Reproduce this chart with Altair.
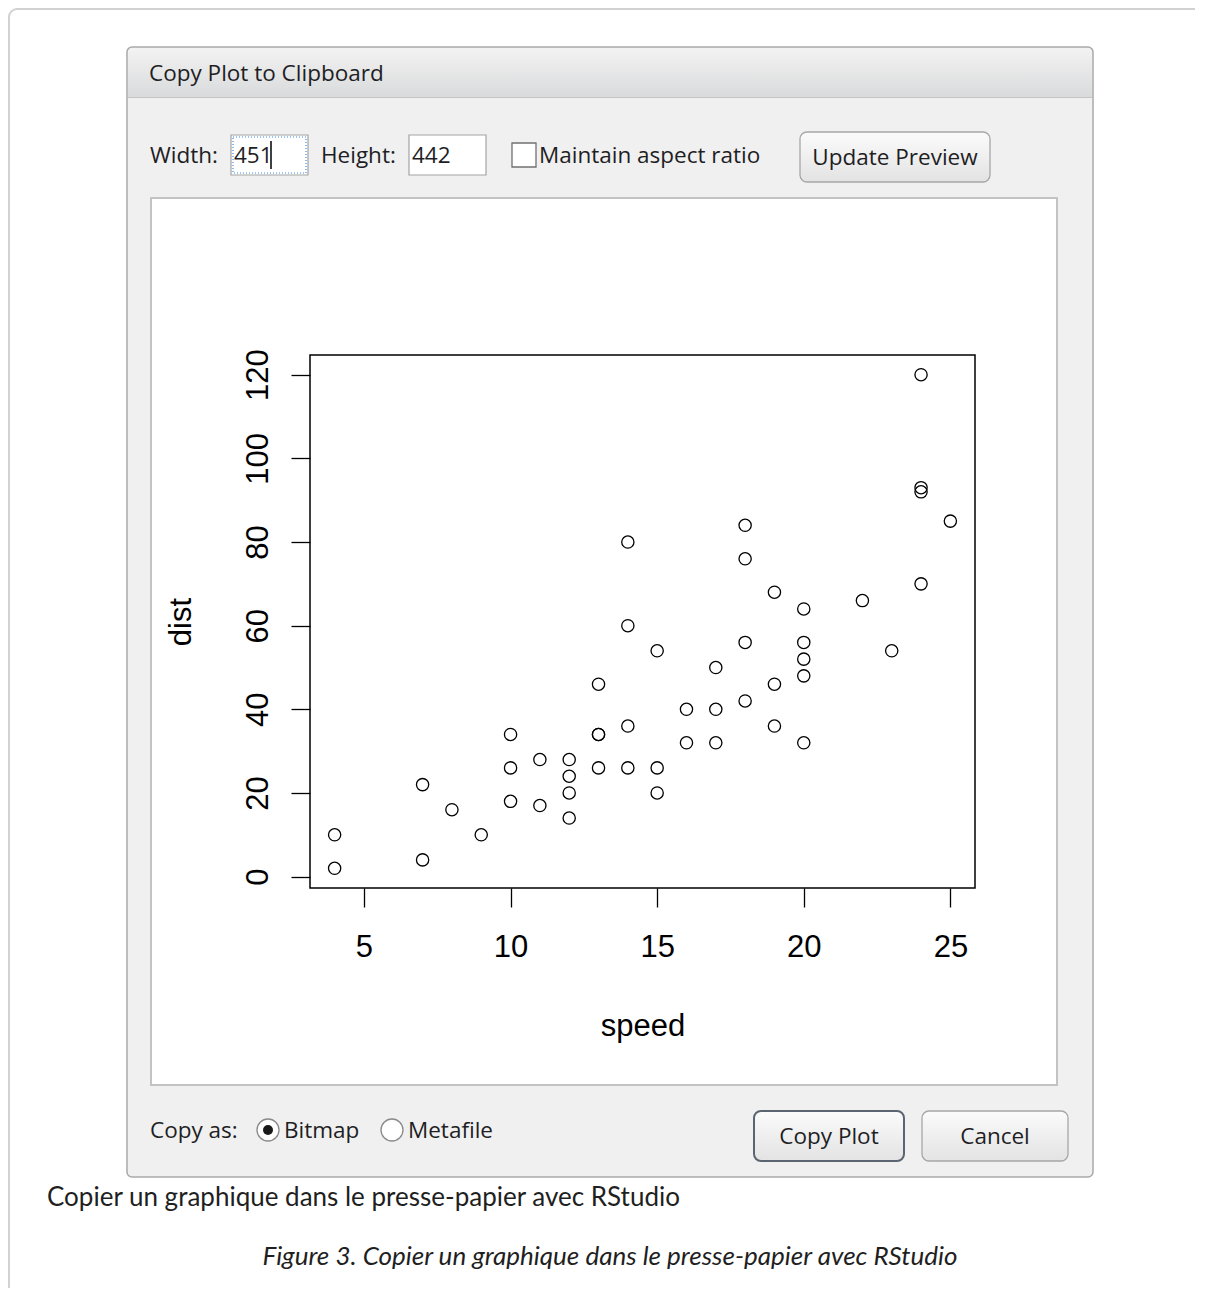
import altair as alt
import pandas as pd

# ---- data (cars dataset as shown) ----
speed = [4, 4, 7, 7, 8, 9, 10, 10, 10, 11, 11, 12, 12, 12, 12, 13, 13, 13, 13, 14,
         14, 14, 14, 15, 15, 15, 16, 16, 17, 17, 17, 18, 18, 18, 18, 19, 19, 19, 20, 20,
         20, 20, 20, 22, 23, 24, 24, 24, 24, 25]
dist = [2, 10, 4, 22, 16, 10, 18, 26, 34, 17, 28, 14, 20, 24, 28, 26, 34, 34, 46, 26,
        36, 60, 80, 20, 26, 54, 32, 40, 32, 40, 50, 42, 56, 76, 84, 36, 46, 68, 32, 48,
        52, 56, 64, 66, 54, 70, 92, 93, 120, 85]
x_ticks = [5, 10, 15, 20, 25]
y_ticks = [0, 20, 40, 60, 80, 100, 120]

x_title = "speed"
y_title = "dist"
dialog_title = "Copy Plot to Clipboard"
caption = "Copier un graphique dans le presse-papier avec RStudio"
figure_caption = "Figure 3. Copier un graphique dans le presse-papier avec RStudio"

df = pd.DataFrame({"speed": speed, "dist": dist})
one = pd.DataFrame({"k": [0]})

W, H = 665, 533
UI_FONT = "Open Sans"
UI_SIZE = 22.5
UI_COLOR = "#1e1e24"


def rect(x, x2, y, y2, **mk):
    return alt.Chart(one).mark_rect(**mk).encode(
        x=alt.value(x), x2=alt.value(x2), y=alt.value(y), y2=alt.value(y2)
    )


def label(txt, x, y, **mk):
    opts = dict(font=UI_FONT, fontSize=UI_SIZE, color=UI_COLOR, align="left",
                baseline="alphabetic")
    opts.update(mk)
    return alt.Chart(one).mark_text(**opts).encode(
        x=alt.value(x), y=alt.value(y), text=alt.value(txt)
    )


def dot(x, y, size, **mk):
    return alt.Chart(one).mark_point(shape="circle", **mk).encode(
        x=alt.value(x), y=alt.value(y), size=alt.value(size)
    )


def grad(c1, c2):
    return alt.LinearGradient(
        gradient="linear", x1=0, x2=0, y1=0, y2=1,
        stops=[alt.GradientStop(color=c1, offset=0), alt.GradientStop(color=c2, offset=1)],
    )


layers = []
# page frame
layers.append(rect(-301, 920, -346, 980, fill="white", stroke="#d2d2d2",
                   strokeWidth=2, cornerRadius=8))
# dialog body
layers.append(rect(-183, 783, -308, 822, fill="#f0f0f0", stroke="#a9a9a9",
                   strokeWidth=1.5, cornerRadius=5))
# title bar
layers.append(rect(-182, 782, -307, -258, fill=grad("#f3f3f3", "#d9dadb"),
                   cornerRadiusTopLeft=5, cornerRadiusTopRight=5))
layers.append(rect(-182, 782, -258, -257, fill="#c4c4c4"))
layers.append(label(dialog_title, -161, -274))

# width / height inputs
layers.append(label("Width:", -160, -192))
layers.append(rect(-79, -2, -220, -180, fill="white", stroke="#a4a4a4", strokeWidth=1.2))
layers.append(rect(-77, -4, -218, -182, fillOpacity=0, stroke="#3b8be6",
                   strokeWidth=1.2, strokeDash=[1, 2]))
layers.append(label("451", -76, -192))
layers.append(alt.Chart(one).mark_rule(color="black", strokeWidth=1.5).encode(
    x=alt.value(-39), y=alt.value(-214), y2=alt.value(-186)))
layers.append(label("Height:", 11, -192))
layers.append(rect(99, 176, -220, -180, fill="white", stroke="#a4a4a4", strokeWidth=1.2))
layers.append(label("442", 102, -192))

# checkbox
layers.append(rect(202, 226, -212, -188, fill="white", stroke="#707070", strokeWidth=1.3))
layers.append(label("Maintain aspect ratio", 229, -192))

# update preview button
layers.append(rect(490, 680, -223, -173, fill=grad("#fbfbfb", "#e3e3e3"),
                   stroke="#a7a7a7", strokeWidth=1.3, cornerRadius=7))
layers.append(label("Update Preview", 585, -190, align="center"))

# preview panel
layers.append(rect(-159, 747, -157, 730, fill="white", stroke="#c3c3c3", strokeWidth=2))

# bottom row
layers.append(label("Copy as:", -160, 783))
layers.append(dot(-42, 775, 484, filled=True, fill="white", stroke="#8a8a8a",
                  strokeWidth=1.3, opacity=1))
layers.append(dot(-42, 775, 100, filled=True, fill="#1a1a1a", opacity=1))
layers.append(label("Bitmap", -26, 783))
layers.append(dot(82, 775, 484, filled=True, fill="white", stroke="#8a8a8a",
                  strokeWidth=1.3, opacity=1))
layers.append(label("Metafile", 98, 783))
layers.append(rect(444, 594, 756, 806, fill=grad("#fbfbfb", "#e3e3e3"),
                   stroke="#5b6572", strokeWidth=2, cornerRadius=7))
layers.append(label("Copy Plot", 519, 789, align="center"))
layers.append(rect(612, 758, 756, 806, fill=grad("#fbfbfb", "#e3e3e3"),
                   stroke="#a7a7a7", strokeWidth=1.3, cornerRadius=7))
layers.append(label("Cancel", 685, 789, align="center"))

# captions under the dialog
layers.append(label(caption, -263, 851, font="Lato", fontSize=26, color="#1f1f1f"))
layers.append(label(figure_caption, 300, 910, font="Lato", fontSize=26,
                    fontStyle="italic", color="#1f1f1f", align="center"))

# plot box
layers.append(rect(0, W, 0, H, fillOpacity=0, stroke="black", strokeWidth=1.5))

# scatter
points = alt.Chart(df).mark_point(
    shape="circle", filled=False, stroke="black", strokeWidth=1.3, size=150, opacity=1
).encode(
    x=alt.X("speed:Q",
            scale=alt.Scale(domain=[3.16, 25.84], nice=False, zero=False),
            axis=alt.Axis(values=x_ticks, title=x_title, labelPadding=25,
                          titleY=147, titleBaseline="alphabetic", zindex=5)),
    y=alt.Y("dist:Q",
            scale=alt.Scale(domain=[-2.72, 124.72], nice=False, zero=False),
            axis=alt.Axis(values=y_ticks, title=y_title, labelAngle=-90,
                          labelAlign="center", labelBaseline="alphabetic",
                          labelPadding=24, titleX=-120, titleAngle=-90,
                          titleAlign="center", titleBaseline="alphabetic", zindex=5)),
)
layers.append(points)

chart = alt.layer(*layers).properties(
    width=W, height=H,
    autosize=alt.AutoSizeParams(type="none"),
    padding={"left": 302, "top": 347, "right": 220, "bottom": 400},
    background="white",
).configure_view(
    strokeWidth=0
).configure_axis(
    domain=False, grid=False, ticks=True, tickColor="black", tickSize=19,
    tickWidth=1.3, labelFont="Liberation Sans", labelFontSize=31, labelColor="black",
    titleFont="Liberation Sans", titleFontSize=31, titleFontWeight="normal",
    titleColor="black",
)

chart.save("out.html", embed_options={"renderer": "svg", "actions": False})
